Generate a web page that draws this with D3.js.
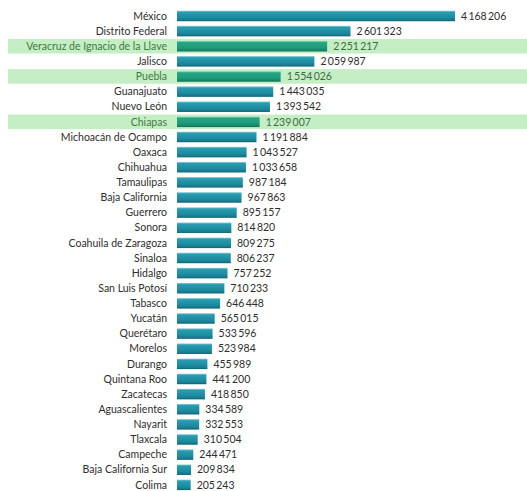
<!DOCTYPE html>
<html>
<head>
<meta charset="utf-8">
<script src="https://cdn.jsdelivr.net/npm/d3@7"></script>
<style>
  html, body { margin: 0; padding: 0; background: #fff; }
  svg { display: block; }
  text { font-family: Lato, "Open Sans", sans-serif; }
</style>
</head>
<body>
<svg id="chart" width="527" height="491"></svg>
<script>
// Population by state
const states = [
  "México", "Distrito Federal", "Veracruz de Ignacio de la Llave", "Jalisco",
  "Puebla", "Guanajuato", "Nuevo León", "Chiapas", "Michoacán de Ocampo",
  "Oaxaca", "Chihuahua", "Tamaulipas", "Baja California", "Guerrero", "Sonora",
  "Coahuila de Zaragoza", "Sinaloa", "Hidalgo", "San Luis Potosí", "Tabasco",
  "Yucatán", "Querétaro", "Morelos", "Durango", "Quintana Roo", "Zacatecas",
  "Aguascalientes", "Nayarit", "Tlaxcala", "Campeche", "Baja California Sur", "Colima"
];
const population = [
  4168206, 2601323, 2251217, 2059987, 1554026, 1443035, 1393542, 1239007, 1191884,
  1043527, 1033658, 987184, 967863, 895157, 814820, 809275, 806237, 757252, 710233,
  646448, 565015, 533596, 523984, 455989, 441200, 418850, 334589, 332553, 310504,
  244471, 209834, 205243
];
// States emphasised with a band
const highlighted = ["Veracruz de Ignacio de la Llave", "Puebla", "Chiapas"];

const data = states.map((s, i) => ({ state: s, value: population[i], hl: highlighted.includes(s) }));

const svg = d3.select("#chart");
const width = 527;

const x = d3.scaleLinear().domain([0, 4168206]).range([177, 455]);
const y = d3.scaleBand().domain(states).range([8.4, 492.4]).paddingInner(0).paddingOuter(0);
const barH = 10.5;

const defs = svg.append("defs");
function grad(id, stops) {
  const g = defs.append("linearGradient").attr("id", id)
    .attr("x1", 0).attr("y1", 0).attr("x2", 0).attr("y2", 1);
  stops.forEach(([o, c]) => g.append("stop").attr("offset", o).attr("stop-color", c));
}
grad("gTeal", [[0, "#8fd0dc"], [0.15, "#2a9cb0"], [0.6, "#1d8ea2"], [0.85, "#187d90"], [1, "#0f5e6c"]]);
grad("gGreen", [[0, "#8fdcc0"], [0.15, "#25a585"], [0.6, "#1f9c7c"], [0.85, "#198a6c"], [1, "#106a52"]]);

const fmt = v => d3.format(",")(v).replace(/,/g, "\u2009");

// Highlight bands
svg.append("g").selectAll("rect")
  .data(data.filter(d => d.hl))
  .join("rect")
  .attr("x", 8)
  .attr("y", d => y(d.state) + y.bandwidth() / 2 - 7.3)
  .attr("width", width - 8)
  .attr("height", 14.6)
  .attr("fill", "#c4eec3");

// Bars
svg.append("g").selectAll("rect")
  .data(data)
  .join("rect")
  .attr("x", x(0))
  .attr("y", d => y(d.state) + y.bandwidth() / 2 - barH / 2)
  .attr("width", d => x(d.value) - x(0))
  .attr("height", barH)
  .attr("fill", d => d.hl ? "url(#gGreen)" : "url(#gTeal)");

// State labels
svg.append("g").selectAll("text")
  .data(data)
  .join("text")
  .attr("x", 167)
  .attr("y", d => y(d.state) + y.bandwidth() / 2)
  .attr("dy", "0.35em")
  .attr("text-anchor", "end")
  .attr("font-size", 10.5)
  .attr("fill", d => d.hl ? "#3f7a45" : "#2e2e2e")
  .text(d => d.state);

// Value labels
svg.append("g").selectAll("text")
  .data(data)
  .join("text")
  .attr("x", d => x(d.value) + 6)
  .attr("y", d => y(d.state) + y.bandwidth() / 2)
  .attr("dy", "0.35em")
  .attr("font-size", 10.5)
  .attr("fill", d => d.hl ? "#3f6b45" : "#2e2e2e")
  .text(d => fmt(d.value));
</script>
</body>
</html>
